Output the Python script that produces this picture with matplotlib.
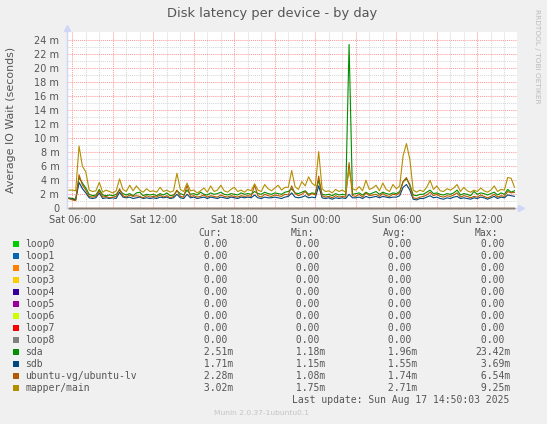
import numpy as np
import matplotlib
matplotlib.use("Agg")
import matplotlib.pyplot as plt
from matplotlib.patches import Rectangle

W, H = 547, 424

# samples every 15 min, hours since Sat 00:00
t_start = 5.75
t_step = 0.25

sda = [
    1.5,
    1.4, 1.3, 4.4, 3.6,   # Sat 06
    2.9, 2.0, 1.8, 1.9,
    2.7, 1.9, 1.8, 1.9,
    1.8, 2.0, 2.6, 2.1,
    1.9, 2.1, 1.8, 2.2,
    2.3, 1.8, 2.0, 1.9,
    2.0, 1.8, 2.1, 1.9,   # Sat 12
    2.2, 1.8, 1.9, 2.5,
    2.1, 1.9, 2.6, 2.0,
    2.1, 1.9, 2.3, 2.0,
    1.9, 2.2, 2.0, 2.1,
    2.3, 2.0, 1.9, 2.1,
    2.0, 1.9, 2.2, 2.0,   # Sat 18
    2.1, 2.0, 2.4, 2.1,
    2.0, 2.3, 2.1, 2.0,
    2.2, 2.1, 2.0, 2.3,
    2.4, 2.8, 2.2, 2.1,
    2.3, 2.5, 2.0, 2.2,
    2.1, 4.0, 2.0, 1.9,   # Sun 00
    2.0, 1.8, 2.1, 1.9,
    2.0, 1.9, 23.42, 2.0,
    2.1, 2.2, 1.9, 2.3,
    2.0, 2.2, 2.4, 2.0,
    2.3, 2.1, 2.0, 2.2,
    2.1, 2.4, 3.8, 4.2,   # Sun 06
    3.4, 1.9, 1.8, 2.0,
    2.0, 2.3, 2.6, 2.1,
    2.2, 2.0, 1.9, 2.1,
    2.0, 2.2, 2.6, 1.9,
    2.1, 2.0, 1.8, 2.4,
    2.0, 2.2, 2.1, 1.9,   # Sun 12
    2.1, 2.3, 1.9, 2.2,
    2.0, 2.7, 2.3, 2.51,
]

sdb = [
    1.4,
    1.3, 1.2, 3.69, 2.8,
    2.2, 1.5, 1.4, 1.5,
    2.2, 1.4, 1.5, 1.4,
    1.5, 1.4, 2.3, 1.6,
    1.5, 1.6, 1.4, 1.5,
    1.6, 1.4, 1.5, 1.4,
    1.5, 1.4, 1.6, 1.5,
    1.6, 1.4, 1.5, 2.0,
    1.5, 1.4, 2.0, 1.5,
    1.6, 1.4, 1.5, 1.6,
    1.4, 1.6, 1.5, 1.4,
    1.6, 1.5, 1.4, 1.6,
    1.5, 1.4, 1.6, 1.5,
    1.6, 1.5, 1.9, 1.5,
    1.4, 1.6, 1.5, 1.5,
    1.6, 1.5, 1.4, 1.6,
    1.7, 2.2, 1.6, 1.5,
    1.6, 1.8, 1.5, 1.6,
    1.5, 3.2, 1.5, 1.4,
    1.5, 1.3, 1.5, 1.4,
    1.5, 1.4, 2.0, 1.5,
    1.5, 1.6, 1.4, 1.7,
    1.5, 1.6, 1.7, 1.5,
    1.7, 1.6, 1.5, 1.6,
    1.6, 1.8, 3.0, 3.4,
    2.6, 1.3, 1.2, 1.4,
    1.4, 1.6, 1.8, 1.5,
    1.6, 1.4, 1.3, 1.5,
    1.4, 1.6, 1.7, 1.4,
    1.5, 1.4, 1.3, 1.5,
    1.4, 1.6, 1.5, 1.3,
    1.5, 1.7, 1.4, 1.6,
    1.5, 1.9, 1.8, 1.71,
]

ubuntu_lv = [
    1.4,
    1.2, 1.1, 4.8, 3.3,
    2.6, 1.7, 1.6, 1.7,
    2.5, 1.6, 1.7, 1.5,
    1.6, 1.7, 2.8, 1.8,
    1.6, 1.9, 1.7, 1.8,
    1.7, 1.5, 1.8, 1.6,
    1.7, 1.6, 1.9, 1.6,
    1.8, 1.5, 1.7, 2.6,
    1.7, 1.6, 3.3, 1.7,
    1.8, 1.6, 1.7, 1.9,
    1.6, 1.8, 1.7, 1.6,
    1.9, 1.7, 1.6, 1.8,
    1.7, 1.6, 1.8, 1.7,
    1.8, 1.7, 3.3, 1.8,
    1.6, 2.0, 1.8, 1.7,
    1.9, 1.8, 1.7, 2.0,
    1.9, 3.2, 2.1, 1.8,
    2.0, 2.4, 1.8, 2.1,
    1.9, 4.6, 1.8, 1.6,
    1.7, 1.5, 1.8, 1.6,
    1.7, 1.6, 6.54, 1.8,
    1.7, 2.0, 1.6, 2.2,
    1.8, 1.9, 2.0, 1.7,
    2.1, 1.8, 1.7, 2.0,
    1.9, 2.2, 3.8, 4.4,
    3.2, 1.5, 1.4, 1.6,
    1.7, 1.9, 2.3, 1.8,
    2.0, 1.7, 1.6, 1.8,
    1.7, 1.9, 2.2, 1.6,
    1.8, 1.7, 1.5, 1.7,
    1.6, 1.9, 1.7, 1.5,
    1.7, 2.0, 1.6, 1.8,
    1.7, 2.4, 2.2, 2.28,
]

mapper_main = [
    2.6,
    2.6, 2.5, 8.9, 6.0,
    5.2, 2.6, 2.4, 2.5,
    3.7, 2.3, 2.6, 2.4,
    2.2, 2.5, 4.2, 2.7,
    2.4, 3.3, 2.5, 3.2,
    2.6, 2.3, 2.8, 2.4,
    2.5, 2.3, 3.0, 2.4,
    2.6, 2.3, 2.5, 5.0,
    2.7, 2.4, 3.6, 2.5,
    2.6, 2.2, 2.5, 2.9,
    2.3, 3.2, 2.4, 2.6,
    3.3, 2.5, 2.3, 2.7,
    3.0, 2.4, 2.6, 2.3,
    2.7, 2.5, 3.5, 2.6,
    2.4, 3.4, 2.8, 2.5,
    2.9, 3.3, 2.6, 3.0,
    3.0, 5.4, 3.1, 2.7,
    3.8, 3.2, 4.5, 3.6,
    3.2, 8.1, 2.8, 2.4,
    2.5, 2.2, 2.7, 2.4,
    2.6, 2.3, 5.5, 2.8,
    2.6, 3.1, 2.5, 4.0,
    2.7, 2.9, 3.3, 2.5,
    3.6, 2.7, 2.4, 3.4,
    2.8, 3.2, 7.5, 9.25,
    7.0, 2.6, 2.3, 2.6,
    2.4, 3.0, 4.0, 2.7,
    3.2, 2.5, 2.4, 2.8,
    2.6, 2.9, 3.4, 2.4,
    3.0, 2.5, 2.3, 2.6,
    2.4, 2.9, 2.5, 2.3,
    2.6, 3.2, 2.4, 2.7,
    2.6, 4.4, 4.3, 3.02,
]

names = ["loop0", "loop1", "loop2", "loop3", "loop4", "loop5", "loop6", "loop7",
         "loop8", "sda", "sdb", "ubuntu-vg/ubuntu-lv", "mapper/main"]
colors = ["#00CC00", "#0066B3", "#FF8000", "#FFCC00", "#330099", "#990099", "#CCFF00",
          "#FF0000", "#808080", "#008F00", "#00487D", "#B35A00", "#B38F00"]
cur = ["0.00"] * 9 + ["2.51m", "1.71m", "2.28m", "3.02m"]
vmin = ["0.00"] * 9 + ["1.18m", "1.15m", "1.08m", "1.75m"]
vavg = ["0.00"] * 9 + ["1.96m", "1.55m", "1.74m", "2.71m"]
vmax = ["0.00"] * 9 + ["23.42m", "3.69m", "6.54m", "9.25m"]

x_ticks = [6, 12, 18, 24, 30, 36]
x_labels = ["Sat 06:00", "Sat 12:00", "Sat 18:00", "Sun 00:00", "Sun 06:00", "Sun 12:00"]
y_ticks = list(range(0, 25, 2))
y_labels = ["0"] + [f"{v} m" for v in y_ticks[1:]]

series = [sda, sdb, ubuntu_lv, mapper_main]
n = len(mapper_main)
t = t_start + t_step * np.arange(n)

fg = "#555555"
axis_col = "#CFD6F8"

fig = plt.figure(figsize=(W / 100, H / 100), dpi=100, facecolor="#F0F0F0")
left, right, top, bottom = 66.7, 517.3, 32.3, 208.3
ax = fig.add_axes([left / W, 1 - bottom / H, (right - left) / W, (bottom - top) / H])
ax.set_facecolor("white")
for s in ax.spines.values():
    s.set_visible(False)

ax.set_xlim(5.585, 38.96)
ax.set_ylim(0, 25.15)

ax.set_xticks(np.arange(6, 39, 3))
ax.set_xticklabels([x_labels[x_ticks.index(v)] if v in x_ticks else "" for v in np.arange(6, 39, 3)])
ax.set_xticks(np.arange(6, 39, 1), minor=True)
ax.set_yticks(y_ticks)
ax.set_yticklabels(y_labels)
ax.set_yticks(np.arange(1, 25, 2), minor=True)
ax.tick_params(which="both", length=0, colors=fg, labelsize=7)
ax.tick_params(axis="y", pad=5.3)
ax.tick_params(axis="x", pad=4.6)

dot = (0, (1, 1))
ax.grid(which="minor", color="#D8D8D8", linestyle=dot, linewidth=0.75)
ax.grid(which="major", color="#FF9A9A", linestyle=dot, linewidth=0.75)
ax.set_axisbelow(True)

# axes with arrows
ax.plot([0, 1.013], [0, 0], color=axis_col, lw=1, transform=ax.transAxes, clip_on=False)
ax.plot([0, 0], [0, 1.03], color=axis_col, lw=1, transform=ax.transAxes, clip_on=False)
ax.plot([1.008], [0], marker=">", ms=5, color=axis_col, transform=ax.transAxes, clip_on=False)
ax.plot([0], [1.025], marker="^", ms=5, color=axis_col, transform=ax.transAxes, clip_on=False)

# loop devices are flat zero
for c in colors[:9]:
    ax.plot(t, np.zeros(n), color=c, lw=0.8, clip_on=False)
for s, c in zip(series, colors[9:]):
    ax.plot(t, s, color=c, lw=0.8)

fig.text(272.5 / W, 1 - 13.5 / H, "Disk latency per device - by day", ha="center", va="center",
         fontsize=9.4, color=fg)
fig.text(10.7 / W, 1 - 120 / H, "Average IO Wait (seconds)", rotation=90, ha="center",
         va="center", fontsize=7.9, color=fg)
fig.text(537.5 / W, 1 - 56 / H, "RRDTOOL / TOBI OETIKER", rotation=270, ha="center",
         va="center", fontsize=5.3, color="#BBBBBB")

# legend table
mono = "DejaVu Sans Mono"
fs = 7
cols = [198, 290.5, 382.5, 475]
y0 = 232.7
for x, h in zip(cols, ["Cur:", "Min:", "Avg:", "Max:"]):
    fig.text(x / W, 1 - y0 / H, h, ha="left", va="center", family=mono, fontsize=fs, color=fg)

for i, name in enumerate(names):
    y = 244.4 + 12 * i
    fig.add_artist(Rectangle((13.3 / W, 1 - (y + 3) / H), 6 / W, 6 / H, transform=fig.transFigure,
                             facecolor=colors[i], edgecolor="none"))
    fig.text(25 / W, 1 - y / H, name, ha="left", va="center", family=mono, fontsize=fs, color=fg)
    for x, vals in zip(cols, [cur, vmin, vavg, vmax]):
        v = vals[i]
        txt = f"{v[:-1]:>5}m" if v.endswith("m") else f"{v:>5}"
        fig.text(x / W, 1 - y / H, txt, ha="left", va="center", family=mono, fontsize=fs, color=fg)

fig.text(509.5 / W, 1 - 400.3 / H, "Last update: Sun Aug 17 14:50:03 2025", ha="right",
         va="center", family=mono, fontsize=fs, color=fg)
fig.text(261 / W, 1 - 412.7 / H, "Munin 2.0.37-1ubuntu0.1", ha="center", va="center",
         fontsize=5.4, color="#C4C4C4")

fig.savefig("out.png", dpi=100, facecolor=fig.get_facecolor())
